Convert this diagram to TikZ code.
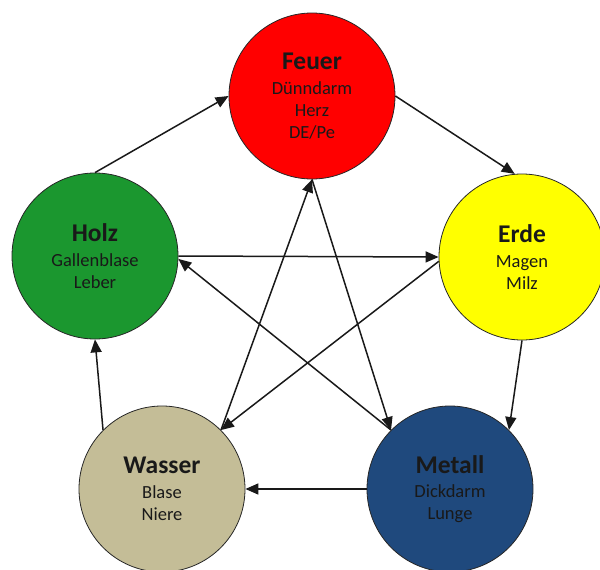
\documentclass[tikz,border=0pt]{standalone}
\usepackage{fontspec}
\setmainfont{Carlito}
\usetikzlibrary{arrows.meta}
\definecolor{feuerc}{HTML}{FF0000}
\definecolor{erdec}{HTML}{FFFF00}
\definecolor{holzc}{HTML}{1B972F}
\definecolor{metallc}{HTML}{1F497D}
\definecolor{wasserc}{HTML}{C4BD97}
\newcommand{\ttl}[1]{{\fontsize{25.5}{29}\selectfont\bfseries #1}\\[2.5pt]}
\begin{document}
\begin{tikzpicture}[x=1pt,y=-1pt,
  element/.style={circle, draw=black!85, line width=0.8pt, minimum size=166pt, inner sep=0pt,
    align=center, font=\fontsize{18.5}{22}\selectfont, text=black!90},
  link/.style={-{Triangle[length=13pt,width=11pt]}, line width=1.5pt, black!90}]
\useasboundingbox (0,0) rectangle (600,570);
\node[element, fill=feuerc]  (feuer)  at (312,96)  {\ttl{Feuer}Dünndarm\\Herz\\DE/Pe};
\node[element, fill=erdec]   (erde)   at (522,257) {\ttl{Erde}Magen\\Milz};
\node[element, fill=holzc]   (holz)   at (95,256)  {\ttl{Holz}Gallenblase\\Leber};
\node[element, fill=metallc] (metall) at (450,489) {\ttl{Metall}Dickdarm\\Lunge};
\node[element, fill=wasserc] (wasser) at (162,489) {\ttl{Wasser}Blase\\Niere};
% cycle
\draw[link] (holz.90) -- (feuer.180);
\draw[link] (feuer.0) -- (erde.95);
\draw[link] (erde.270) -- (metall.45);
\draw[link] (metall.180) -- (wasser.0);
\draw[link] (wasser.135) -- (holz.270);
% star
\draw[link] (holz.0) -- (erde.180);
\draw[link] (metall.135) -- (holz.-2);
\draw[link] (feuer.270) -- (metall.135);
\draw[link] (wasser.45) -- (feuer.270);
\draw[link] (erde.183) -- (wasser.45);
\end{tikzpicture}
\end{document}
